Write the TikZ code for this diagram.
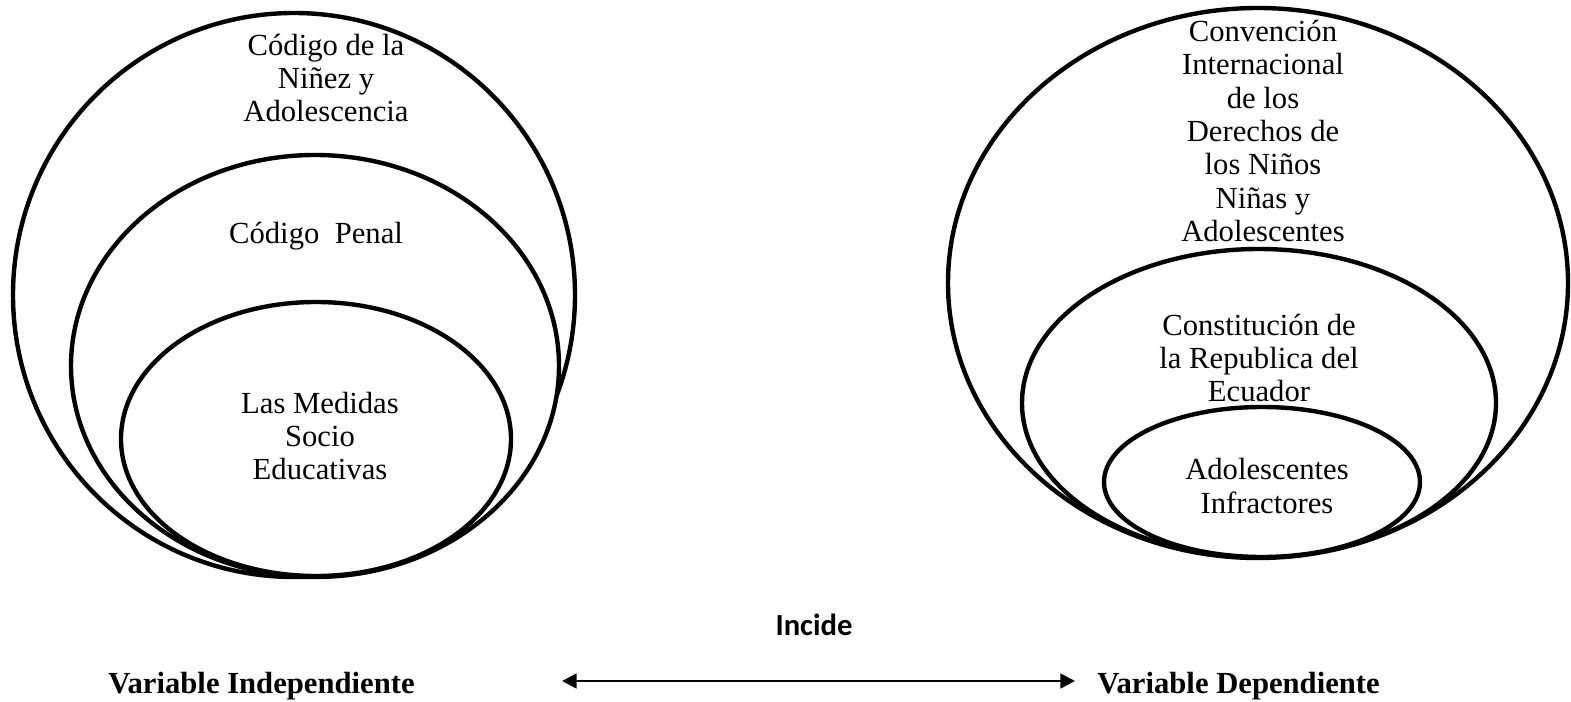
\documentclass[tikz,border=0pt]{standalone}
\usepackage{fontspec}
\setmainfont{Liberation Serif}
\newfontfamily\calib{Carlito}
\usetikzlibrary{shapes.geometric,arrows.meta}
\begin{document}
\begin{tikzpicture}[x=0.75pt,y=-0.75pt,
  ell/.style={ellipse,draw=black,line width=3.3pt,fill=white,inner sep=0pt},
  lbl/.style={align=center,font=\fontsize{23}{25}\selectfont,inner sep=0pt},
  varlbl/.style={font=\fontsize{23}{25}\selectfont\bfseries,inner sep=0pt},
  arr/.style={line width=2pt,{Triangle[length=11pt,width=11pt]}-{Triangle[length=11pt,width=11pt]}}]
\useasboundingbox (0,0) rectangle (1571,702);
% left set
\node[ell,minimum width=421.5pt,minimum height=423pt] (lo) at (294,295) {};
\node[ell,minimum width=366pt,minimum height=316.5pt] (lm) at (315,366) {};
\node[ell,minimum width=292.5pt,minimum height=205.5pt] (li) at (316,439) {};
\node[lbl] (t1) at (326,78) {Código de la\\Niñez y\\Adolescencia};
\node[lbl] (t2) at (316,236) {Código\ \ Penal};
\node[lbl] (t3) at (320,436) {Las Medidas\\Socio\\Educativas};
% right set
\node[ell,minimum width=465pt,minimum height=412.5pt] (ro) at (1258,283) {};
\node[ell,minimum width=355.5pt,minimum height=231pt] (rm) at (1259,403) {};
\node[ell,minimum width=237pt,minimum height=112.5pt] (ri) at (1262,482) {};
\node[lbl] (u1) at (1263,131) {Convención\\Internacional\\de los\\Derechos de\\los Niños\\Niñas y\\Adolescentes};
\node[lbl] (u2) at (1259,358) {Constitución de\\la Republica del\\Ecuador};
\node[lbl] (u3) at (1267,486) {Adolescentes\\Infractores};
% bottom
\node[font=\fontsize{23}{25}\selectfont\calib\bfseries,anchor=base,inner sep=0pt] (inc) at (814,635) {Incide};
\node[varlbl,anchor=base west] (vi) at (108,693) {Variable Independiente};
\node[varlbl,anchor=base west] (vd) at (1097,693) {Variable Dependiente};
\coordinate (aL) at (562,681);
\coordinate (aR) at (1075,681);
\draw[arr] (aL) -- (aR);
\end{tikzpicture}
\end{document}
